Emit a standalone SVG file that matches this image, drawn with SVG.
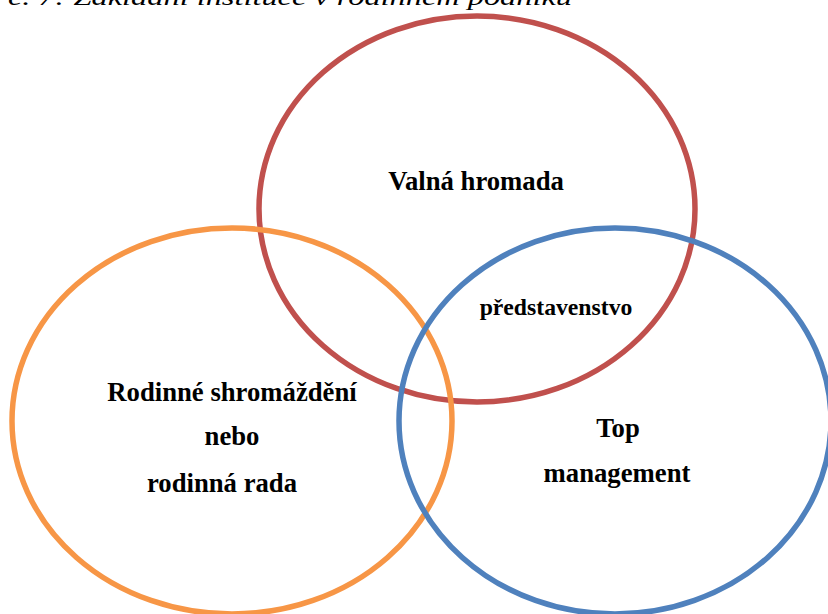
<svg xmlns="http://www.w3.org/2000/svg" width="828" height="614" viewBox="0 0 828 614">
  <style>
    .ring { fill: none; stroke-width: 5.5; }
    .lbl { font-family: 'Liberation Serif', 'DejaVu Serif', serif; font-weight: 700; font-size: 26.7px; fill: #000; text-anchor: middle; }
    .cap { font-family: 'Liberation Serif', 'DejaVu Serif', serif; font-style: italic; font-size: 24px; fill: #000; }
  </style>
  <rect width="828" height="614" fill="#fff"/>
  <text class="cap" x="8" y="5" textLength="564" lengthAdjust="spacingAndGlyphs">č. 7: Základní instituce v rodinném podniku</text>

  <g id="valna-hromada">
    <ellipse class="ring" cx="477" cy="209" rx="218" ry="193" stroke="#C0504D"/>
    <text class="lbl" x="476" y="190">Valná hromada</text>
  </g>
  <g id="rodinne-shromazdeni">
    <ellipse class="ring" cx="232" cy="421" rx="220" ry="193" stroke="#F79646"/>
    <text class="lbl" x="232" y="401">Rodinné shromáždění</text>
    <text class="lbl" x="232" y="445">nebo</text>
    <text class="lbl" x="222" y="492">rodinná rada</text>
  </g>
  <g id="top-management">
    <ellipse class="ring" cx="615" cy="421" rx="216" ry="193" stroke="#4F81BD"/>
    <text class="lbl" x="618" y="437">Top</text>
    <text class="lbl" x="617" y="482">management</text>
  </g>
  <g id="predstavenstvo">
    <text class="lbl" x="556" y="315" style="font-size:23.7px">představenstvo</text>
  </g>
  <g id="connectors"/>
</svg>
